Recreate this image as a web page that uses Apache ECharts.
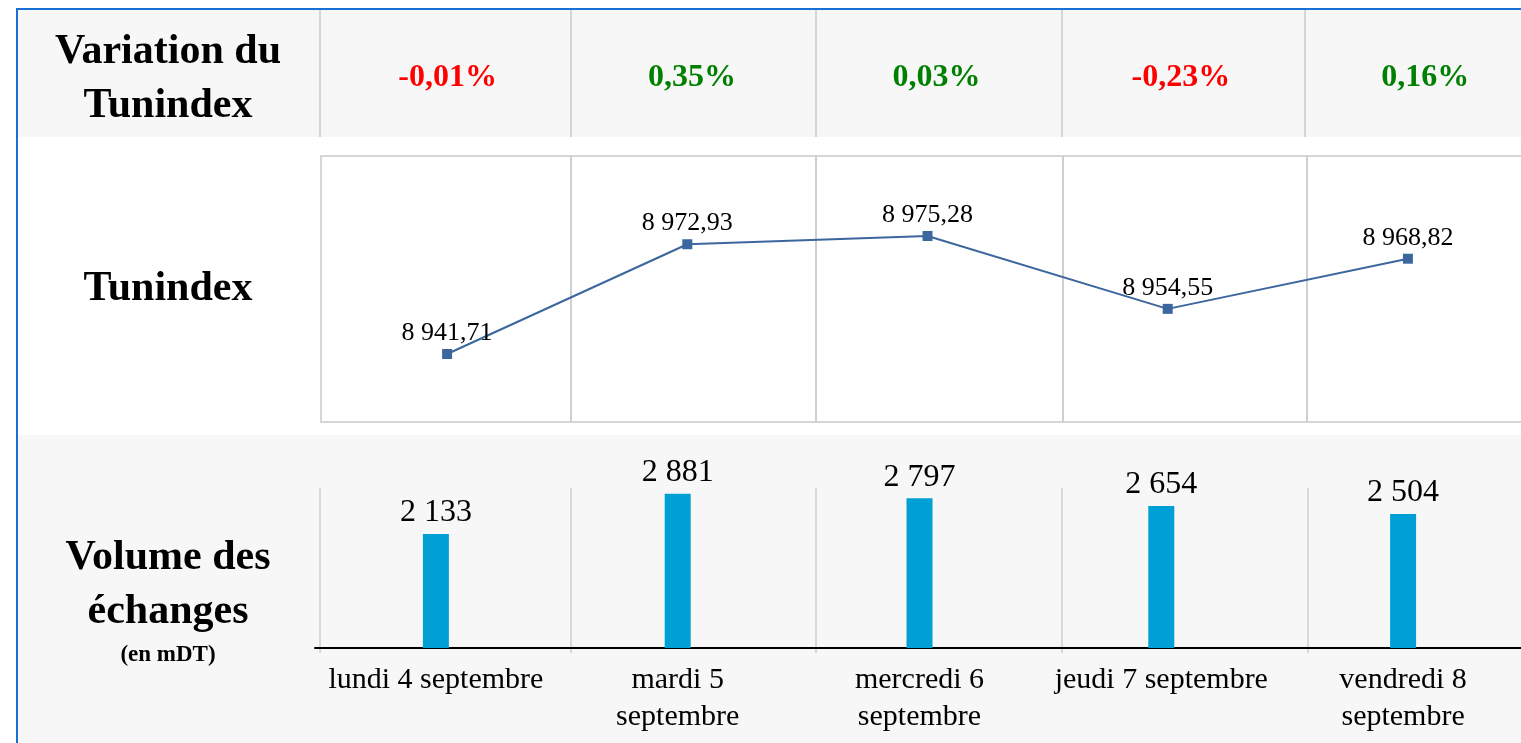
<!DOCTYPE html>
<html><head><meta charset="utf-8">
<script src="https://cdn.jsdelivr.net/npm/echarts@6/dist/echarts.min.js"></script>
<style>html,body{margin:0;padding:0;background:#fff}#c{width:1521px;height:743px}</style>
</head><body><div id="c"></div>
<script>
// ---- data ----
var categories = ['lundi 4 septembre', 'mardi 5\nseptembre', 'mercredi 6\nseptembre', 'jeudi 7 septembre', 'vendredi 8\nseptembre'];
var variationPct = [-0.01, 0.35, 0.03, -0.23, 0.16];
var tunindex = [8941.71, 8972.93, 8975.28, 8954.55, 8968.82];
var volume = [2133, 2881, 2797, 2654, 2504];
var rowTitles = ['Variation du\nTunindex', 'Tunindex', 'Volume des\néchanges', '(en mDT)'];

var SERIF = '"Liberation Serif","Times New Roman",serif';
function frNum(v, dec) {
  var s = v.toFixed(dec);
  var parts = s.split('.');
  var ip = parts[0].replace(/\B(?=(\d{3})+(?!\d))/g, ' ');
  return dec ? ip + ',' + parts[1] : ip;
}
function pctTxt(v) { return (v < 0 ? '-' : '') + Math.abs(v).toFixed(2).replace('.', ',') + '%'; }

var chart = echarts.init(document.getElementById('c'), null, {renderer: 'canvas'});

var GRAY = '#d6d6d6';
var bg = [
  {type: 'rect', shape: {x: 18, y: 10, width: 1503, height: 127}, style: {fill: '#f7f7f7'}},
  {type: 'rect', shape: {x: 18, y: 435, width: 1503, height: 308}, style: {fill: '#f7f7f7'}},
  {type: 'rect', shape: {x: 16, y: 8, width: 1505, height: 2}, style: {fill: '#1a6fd4'}},
  {type: 'rect', shape: {x: 16, y: 8, width: 2, height: 735}, style: {fill: '#1a6fd4'}},
  {type: 'rect', shape: {x: 321, y: 156, width: 1240, height: 266}, style: {fill: '#fff', stroke: GRAY, lineWidth: 2}}
];
[320, 571, 816, 1062, 1305].forEach(function (x) {
  bg.push({type: 'rect', shape: {x: x - 1, y: 10, width: 2, height: 127}, style: {fill: GRAY}});
});
[571, 816, 1063, 1307].forEach(function (x) {
  bg.push({type: 'rect', shape: {x: x - 1, y: 156, width: 2, height: 266}, style: {fill: '#cfcfcf'}});
});
[320, 571, 816, 1062, 1308].forEach(function (x) {
  bg.push({type: 'rect', shape: {x: x - 1, y: 488, width: 2, height: 165}, style: {fill: '#d9d9d9'}});
});
bg.forEach(function (e) { e.z = -10; e.silent = true; });

var texts = [
  {type: 'text', x: 168, y: 79, style: {text: rowTitles[0], font: 'bold 42px ' + SERIF, lineHeight: 54, fill: '#000', align: 'center', verticalAlign: 'middle'}},
  {type: 'text', x: 168, y: 289, style: {text: rowTitles[1], font: 'bold 42px ' + SERIF, fill: '#000', align: 'center', verticalAlign: 'middle'}},
  {type: 'text', x: 168, y: 585, style: {text: rowTitles[2], font: 'bold 42px ' + SERIF, lineHeight: 54, fill: '#000', align: 'center', verticalAlign: 'middle'}},
  {type: 'text', x: 168, y: 655, style: {text: rowTitles[3], font: 'bold 23px ' + SERIF, fill: '#000', align: 'center', verticalAlign: 'middle'}}
];

var option = {
  animation: false,
  backgroundColor: '#ffffff',
  graphic: {elements: bg.concat(texts)},
  grid: [
    {left: 325.4, width: 1222, top: 14, height: 128, outerBoundsMode: 'none'},
    {left: 327, width: 1201, top: 149.1, height: 281.2, outerBoundsMode: 'none'},
    {left: 315, width: 1209, top: 487.5, height: 160.5, outerBoundsMode: 'none'}
  ],
  xAxis: [
    {type: 'category', gridIndex: 0, data: categories, show: false},
    {type: 'category', gridIndex: 1, data: categories, show: false, boundaryGap: true},
    {type: 'category', gridIndex: 2, data: categories,
      axisLine: {show: true, lineStyle: {color: '#000', width: 2}},
      axisTick: {show: false},
      axisLabel: {interval: 0, margin: 14, fontFamily: SERIF, fontSize: 30, lineHeight: 37, color: '#000'}}
  ],
  yAxis: [
    {type: 'value', gridIndex: 0, min: -1, max: 1, show: false},
    {type: 'value', gridIndex: 1, min: 8920, max: 9000, show: false},
    {type: 'value', gridIndex: 2, min: 0, max: 3000, show: false}
  ],
  series: [
    {
      type: 'scatter', xAxisIndex: 0, yAxisIndex: 0, symbolSize: 0,
      itemStyle: {opacity: 1},
      data: variationPct.map(function (v, i) {
        return {value: [i, 0, v], label: {color: v < 0 ? '#ff0000' : '#008000'}};
      }),
      label: {show: true, position: 'inside', fontFamily: SERIF, fontWeight: 'bold', fontSize: 32, opacity: 1,
        formatter: function (p) { return pctTxt(p.value[2]); }}
    },
    {
      type: 'line', xAxisIndex: 1, yAxisIndex: 1, data: tunindex,
      symbol: 'rect', symbolSize: 10,
      lineStyle: {color: '#3c679e', width: 2},
      itemStyle: {color: '#3c679e'},
      label: {show: true, position: 'top', distance: 3, fontFamily: SERIF, fontSize: 26, color: '#000',
        formatter: function (p) { return frNum(p.value, 2); }}
    },
    {
      type: 'bar', xAxisIndex: 2, yAxisIndex: 2, data: volume, barWidth: 26,
      itemStyle: {color: '#00a0d6'},
      label: {show: true, position: 'top', distance: 5, fontFamily: SERIF, fontSize: 32, color: '#000',
        formatter: function (p) { return frNum(p.value, 0); }}
    }
  ]
};
chart.setOption(option);
</script>
</body></html>
